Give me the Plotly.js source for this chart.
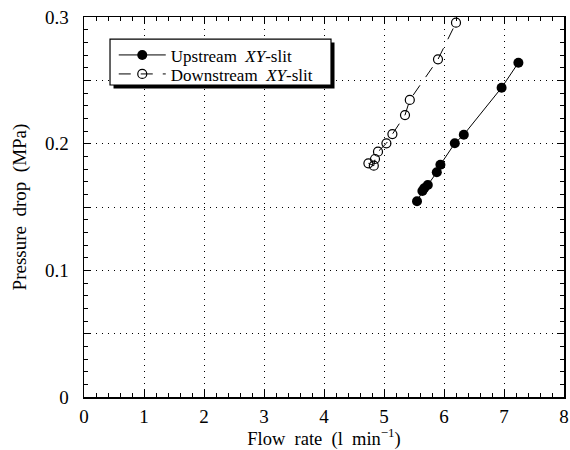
<!DOCTYPE html>
<html><head><meta charset="utf-8">
<script src="https://cdn.plot.ly/plotly-3.0.1.min.js"></script>
<style>body{margin:0;background:#fff}#c{width:570px;height:450px}</style>
</head><body><div id="c"></div>
<script>
const upX = [5.55, 5.64, 5.67, 5.73, 5.88, 5.94, 6.18, 6.33, 6.96, 7.24];
const upY = [0.1545, 0.1626, 0.1648, 0.1674, 0.1774, 0.1834, 0.2003, 0.2071, 0.2442, 0.2639];
const downX = [4.74, 4.83, 4.85, 4.90, 5.04, 5.14, 5.35, 5.43, 5.90, 6.20];
const downY = [0.1845, 0.1826, 0.1879, 0.1937, 0.2003, 0.2076, 0.2226, 0.2345, 0.2666, 0.2955];
const xTicks = [0,1,2,3,4,5,6,7,8];
const yTickVals = [0,0.05,0.1,0.15,0.2,0.25,0.3];
const yTickText = ['0','','0.1','','0.2','','0.3'];
const names = ['Upstream&nbsp; <i>XY</i>-slit', 'Downstream&nbsp; <i>XY</i>-slit'];

const font = {family: '"Liberation Serif", "Times New Roman", serif', color: '#000', size: 18};

const traces = [
  {x: upX, y: upY, name: names[0], mode: 'lines+markers', type: 'scatter', legend: 'legend',
   line: {color: '#000', width: 1},
   marker: {symbol: 'circle', size: 10, color: '#000'}},
  {x: downX, y: downY, name: names[1], mode: 'lines+markers', type: 'scatter', legend: 'legend2',
   line: {color: '#000', width: 1, dash: '12px,10px'},
   marker: {symbol: 'circle-open', size: 9, color: '#000', line: {width: 1.2, color: '#000'}}}
];

const axisCommon = {
  showline: true, linecolor: '#000', linewidth: 1.5, mirror: 'allticks',
  ticks: 'inside', ticklen: 7, tickcolor: '#000', tickwidth: 1,
  showgrid: true, gridcolor: '#000', gridwidth: 1, griddash: '1px,5px',
  zeroline: false, tickfont: {size: 19}
};

const legendCommon = {xanchor: 'left', yanchor: 'middle', x: 0.062,
  bgcolor: 'rgba(0,0,0,0)', borderwidth: 0, font: {size: 17}, itemwidth: 47};

// legend frame (decoration) in paper coords
const L = {x0: 0.0542, x1: 0.5146, y0: 0.821, y1: 0.942};
const dx = 3.5/480, dy = 3.5/380;

const layout = {
  width: 570, height: 450,
  margin: {l: 84, r: 6, t: 17, b: 53},
  paper_bgcolor: '#fff', plot_bgcolor: '#fff',
  font: font,
  showlegend: true,
  legend: Object.assign({}, legendCommon, {y: 0.899}),
  legend2: Object.assign({}, legendCommon, {y: 0.849}),
  shapes: [
    {type: 'rect', xref: 'paper', yref: 'paper', layer: 'above',
     x0: L.x0 + dx, x1: L.x1 + dx, y0: L.y0 - dy, y1: L.y1 - dy,
     fillcolor: '#000', line: {width: 0}},
    {type: 'rect', xref: 'paper', yref: 'paper', layer: 'above',
     x0: L.x0, x1: L.x1, y0: L.y0, y1: L.y1,
     fillcolor: '#fff', line: {width: 1.2, color: '#000'}}
  ],
  xaxis: Object.assign({}, axisCommon, {
    range: [0, 8], tickmode: 'array', tickvals: xTicks, ticktext: xTicks.map(String),
    ticklabelstandoff: 2,
    minor: {dtick: 0.2, ticks: 'inside', ticklen: 4, tickcolor: '#000', showgrid: false},
    title: {text: 'Flow&nbsp; rate&nbsp; (l&nbsp; min<sup>−1</sup>)', font: {size: 18.5}, standoff: 2}
  }),
  yaxis: Object.assign({}, axisCommon, {
    range: [0, 0.3], tickmode: 'array', tickvals: yTickVals, ticktext: yTickText,
    ticklabelstandoff: 10,
    minor: {dtick: 0.01, ticks: 'inside', ticklen: 4, tickcolor: '#000', showgrid: false},
    title: {text: 'Pressure&nbsp; drop&nbsp; (MPa)', font: {size: 19}, standoff: 13}
  })
};

Plotly.newPlot('c', traces, layout, {displayModeBar: false, staticPlot: true});
</script>
</body></html>
